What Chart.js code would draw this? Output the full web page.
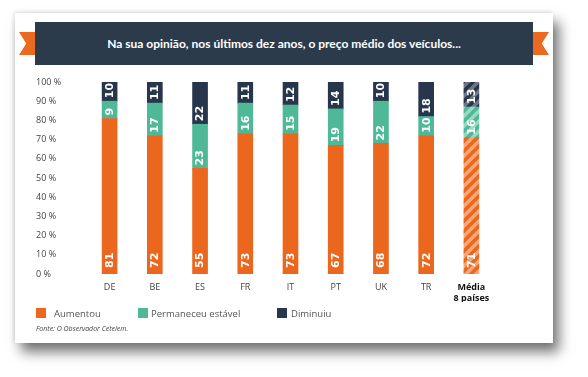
<!DOCTYPE html>
<html>
<head>
<meta charset="utf-8">
<script src="https://cdn.jsdelivr.net/npm/chart.js@4.4.1/dist/chart.umd.min.js"></script>
<style>
  html, body { margin:0; padding:0; background:#ffffff; }
  #wrap { position:relative; width:588px; height:377px; overflow:hidden; background:#fff; }
  #card { position:absolute; left:15px; top:13px; width:538px; height:330px; background:#fff;
          box-shadow: 6px 9px 12px rgba(0,0,0,0.55), -1px -1px 4px rgba(0,0,0,0.12); }
  #banner { position:absolute; left:35px; top:22px; width:498px; height:43px; background:#2b3b4c;
            color:#fff; font-family: Lato, "Open Sans", sans-serif; font-weight:bold; font-size:12px;
            line-height:43px; text-align:center; }
  .rib { position:absolute; background:#ec6a1f; }
  #ribL { left:19px; top:32px; width:16px; height:23px; clip-path: polygon(0 0,100% 0,100% 100%,0 100%,45% 50%); }
  #ribR { left:533px; top:32px; width:16px; height:23px; clip-path: polygon(0 0,100% 0,55% 50%,100% 100%,0 100%); }
  .leg { position:absolute; top:307px; font-family:"Open Sans", sans-serif; font-size:9.5px; color:#555; }
  .sq { position:absolute; top:308px; width:10px; height:10px; }
  #src { position:absolute; left:36px; top:324px; font-family:"Open Sans", sans-serif; font-style:italic; font-size:7px; color:#444; }
  #c { position:absolute; left:0; top:0; }
</style>
</head>
<body>
<div id="wrap">
  <div id="card"></div>
  <div class="rib" id="ribL"></div>
  <div class="rib" id="ribR"></div>
  <div id="banner">Na sua opinião, nos últimos dez anos, o preço médio dos veículos...</div>
  <canvas id="c" width="588" height="377"></canvas>
  <div class="sq" style="left:36px;background:#ea671d"></div>
  <div class="leg" style="left:54px">Aumentou</div>
  <div class="sq" style="left:138px;background:#4fb897"></div>
  <div class="leg" style="left:151px">Permaneceu estável</div>
  <div class="sq" style="left:277px;background:#27364a"></div>
  <div class="leg" style="left:291px">Diminuiu</div>
  <div id="src">Fonte: O Observador Cetelem.</div>
</div>
<script>
const categories = ["DE","BE","ES","FR","IT","PT","UK","TR",["Média","8 países"]];
const aumentou   = [81,72,55,73,73,67,68,72,71];
const permaneceu = [9,17,23,16,15,19,22,10,16];
const diminuiu   = [10,11,22,11,12,14,10,18,13];
const seriesNames = ["Aumentou","Permaneceu estável","Diminuiu"];
const yTicks = [0,10,20,30,40,50,60,70,80,90,100];

function stripes(base, light){
  const c = document.createElement('canvas'); c.width = 10; c.height = 10;
  const g = c.getContext('2d');
  g.fillStyle = base; g.fillRect(0,0,10,10);
  g.strokeStyle = light; g.lineWidth = 3.5;
  [[-10,10,10,-10],[0,10,10,0],[0,20,20,0]].forEach(([a,b,cx,d])=>{g.beginPath();g.moveTo(a,b);g.lineTo(cx,d);g.stroke();});
  return g.createPattern(c,'repeat');
}
const cols = ["#ea671d","#4fb897","#27364a"];
const lights = ["#f4a77a","#9ad8c2","#6d7682"];
function colArr(i){ const a = categories.map(()=>cols[i]); a[8] = stripes(cols[i], lights[i]); return a; }

const labelPlugin = {
  id:'lbl',
  afterDatasetsDraw(chart){
    const ctx = chart.ctx;
    chart.data.datasets.forEach((ds, di)=>{
      const meta = chart.getDatasetMeta(di);
      meta.data.forEach((el, i)=>{
        const v = ds.data[i];
        ctx.save();
        ctx.fillStyle = '#fff';
        ctx.font = 'bold 11px "DejaVu Sans", sans-serif';
        ctx.textBaseline = 'middle';
        const txt = String(v);
        const L = ctx.measureText(txt).width;
        const h = el.base - el.y;
        let pad = di === 0 ? 6 : 3;
        if (di !== 0) pad = Math.max(pad, (h - L) / 2 < 3 ? (h - L) / 2 : 3);
        ctx.translate(el.x, el.base - pad);
        ctx.rotate(-Math.PI/2);
        ctx.textAlign = 'left';
        ctx.fillText(txt, 0, 0.5);
        ctx.restore();
      });
    });
  }
};

new Chart(document.getElementById('c'), {
  type:'bar',
  data:{
    labels: categories,
    datasets:[
      {label:seriesNames[0], data:aumentou, backgroundColor:colArr(0)},
      {label:seriesNames[1], data:permaneceu, backgroundColor:colArr(1)},
      {label:seriesNames[2], data:diminuiu, backgroundColor:colArr(2)}
    ]
  },
  options:{
    responsive:false, animation:false,
    layout:{ padding:{ left:36, right:94, top:82, bottom:75 } },
    plugins:{ legend:{display:false}, tooltip:{enabled:false} },
    datasets:{ bar:{ barThickness:15, borderWidth:0 } },
    scales:{
      x:{
        stacked:true,
        grid:{display:false, drawTicks:false}, border:{display:false},
        afterFit(s){ s.height = 28; },
        ticks:{
          padding:8,
          color:(c)=> c.index===8 ? '#111' : '#444',
          font:(c)=> c.index===8 ? {family:'"Open Sans", sans-serif', size:9, weight:'bold', lineHeight:1.2} : {family:'"Open Sans", sans-serif', size:9}
        }
      },
      y:{
        stacked:true, min:0, max:100,
        grid:{display:false, drawTicks:false}, border:{display:false},
        afterFit(s){ s.width = 51; },
        afterBuildTicks(s){ s.ticks = yTicks.map(v=>({value:v})); },
        ticks:{ crossAlign:'far', padding:0, color:'#444', font:{family:'"Open Sans", sans-serif', size:9},
          callback:(v)=> v + ' %' }
      }
    }
  },
  plugins:[labelPlugin]
});
</script>
</body>
</html>
